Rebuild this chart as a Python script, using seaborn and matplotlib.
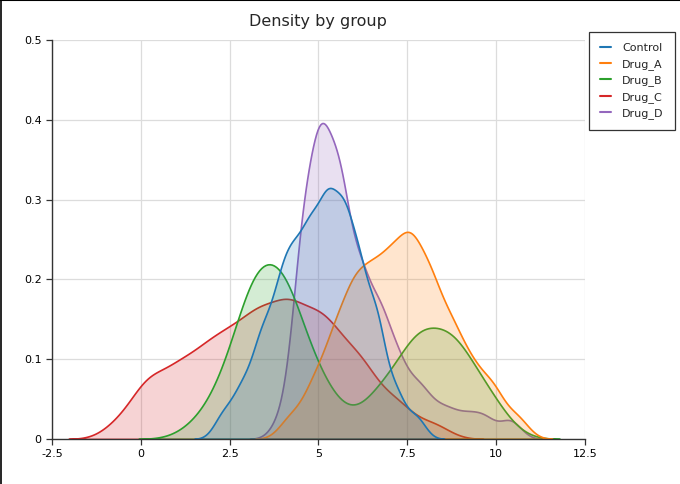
import pandas as pd
import matplotlib
matplotlib.use("Agg")
import matplotlib.pyplot as plt
import seaborn as sns
from matplotlib.lines import Line2D
from matplotlib.ticker import FuncFormatter

groups = ["Control", "Drug_A", "Drug_B", "Drug_C", "Drug_D"]
colors = ["#1f77b4", "#ff7f0e", "#2ca02c", "#d62728", "#9467bd"]

# sample values per group, estimated so the densities match the picture
control = [2.3,2.7,2.9,3.1,3.39,3.39,3.39,3.56,3.83,3.83,3.83,3.89,4.1,4.14,4.17,4.18,4.25,4.4,4.47,4.5,
           4.52,4.59,4.76,4.8,4.82,4.84,4.87,4.9,4.98,5.21,5.25,5.27,5.28,5.28,5.29,5.29,5.29,5.53,5.72,5.72,
           5.72,5.72,5.72,5.72,5.72,5.91,6.17,6.17,6.17,6.17,6.17,6.17,6.58,6.66,6.66,6.66,6.66,7.18,7.18,7.75]
drug_a = [4.22,4.84,4.84,5.19,5.47,5.47,5.47,5.69,6.01,6.01,6.01,6.01,6.02,6.37,6.48,6.51,6.53,6.54,6.65,6.96,
          6.99,7.01,7.03,7.06,7.13,7.37,7.51,7.55,7.57,7.58,7.58,7.61,7.83,8,8.05,8.09,8.14,8.21,8.34,8.48,
          8.62,8.77,8.85,8.89,9.24,9.31,9.52,9.94,9.94,10.59]
drug_b = [1.63,2.4,2.4,2.4,2.79,3.17,3.21,3.23,3.24,3.24,3.24,3.24,3.24,3.24,3.67,4.03,4.04,4.04,4.05,4.05,
          4.07,4.09,4.13,4.2,4.65,4.99,5.01,5.01,5.68,6.6,6.66,6.9,7.24,7.54,7.71,7.81,7.87,7.92,7.95,8.04,
          8.73,8.73,8.74,8.74,8.76,8.79,9.36,9.62,9.62,10.1]
drug_c = [-0.6,0.16,0.16,0.16,0.62,1.06,1.06,1.07,1.43,1.8,1.84,1.85,2,2.36,2.47,2.55,2.63,2.73,2.97,3.21,
          3.3,3.35,3.39,3.43,3.51,3.89,4.1,4.14,4.16,4.18,4.19,4.19,4.65,4.86,4.87,4.9,4.96,5.09,5.4,5.5,
          5.52,5.53,6,6.22,6.22,6.23,6.68,7.24,7.24,8.21]
drug_d = [3.98,4.54,4.54,4.54,4.54,4.54,4.54,4.54,4.54,4.54,4.8,5.06,5.06,5.06,5.06,5.06,5.06,5.06,5.06,5.06,
          5.06,5.06,5.06,5.3,5.4,5.61,5.61,5.61,5.61,5.61,5.61,5.61,5.61,5.61,5.61,5.81,6.18,6.18,6.18,6.18,
          6.18,6.18,6.18,6.69,6.69,6.69,6.69,6.69,6.94,7.23,7.23,7.23,7.62,7.81,7.99,8.37,8.75,9.23,9.7,10.4]

values = {"Control": control, "Drug_A": drug_a, "Drug_B": drug_b, "Drug_C": drug_c, "Drug_D": drug_d}
df = pd.DataFrame([(g, v) for g in groups for v in values[g]], columns=["group", "value"])

sns.set_style("white")
plt.rcParams["font.family"] = ["DejaVu Sans"]

fig, ax = plt.subplots(figsize=(6.8, 4.84), dpi=100)
fig.subplots_adjust(left=0.0765, right=0.86, top=0.917, bottom=0.093)

sns.kdeplot(data=df, x="value", hue="group", hue_order=groups, palette=colors,
            fill=True, common_norm=False, bw_adjust=0.5, alpha=0.2,
            linewidth=1.2, legend=False, ax=ax)

ax.set_xlim(-2.5, 12.5)
ax.set_ylim(0, 0.5)
ax.set_xticks([-2.5, 0, 2.5, 5, 7.5, 10, 12.5])
ax.set_yticks([0, 0.1, 0.2, 0.3, 0.4, 0.5])
fmt = FuncFormatter(lambda val, pos: "%g" % val)
ax.xaxis.set_major_formatter(fmt)
ax.yaxis.set_major_formatter(fmt)
ax.set_xlabel("")
ax.set_ylabel("")
ax.grid(True, color="#dcdcdc", linewidth=0.9)
ax.set_axisbelow(True)
for s in ["top", "right"]:
    ax.spines[s].set_visible(False)
for s in ["left", "bottom"]:
    ax.spines[s].set_color("#333333")
    ax.spines[s].set_linewidth(1.0)
ax.tick_params(axis="both", direction="out", length=4, width=0.9, colors="#333333",
               labelcolor="black", labelsize=8, left=True, bottom=True)
ax.set_title("Density by group", fontsize=11.5, pad=10)

handles = [Line2D([0], [0], color=c, lw=1.5) for c in colors]
leg = ax.legend(handles, groups, loc="upper left", bbox_to_anchor=(1.0075, 1.02),
                borderaxespad=0, frameon=True, fancybox=False, edgecolor="black",
                fontsize=8, handlelength=1.0, handletextpad=1.0, borderpad=1.0,
                labelspacing=0.5)
leg.get_frame().set_linewidth(0.9)

# screenshot frame on top and left edge
fig.add_artist(Line2D([0, 1], [0.999, 0.999], transform=fig.transFigure, color="black", lw=1.5))
fig.add_artist(Line2D([0.001, 0.001], [0, 1], transform=fig.transFigure, color="black", lw=1.2))

fig.savefig("out.png", dpi=100)
